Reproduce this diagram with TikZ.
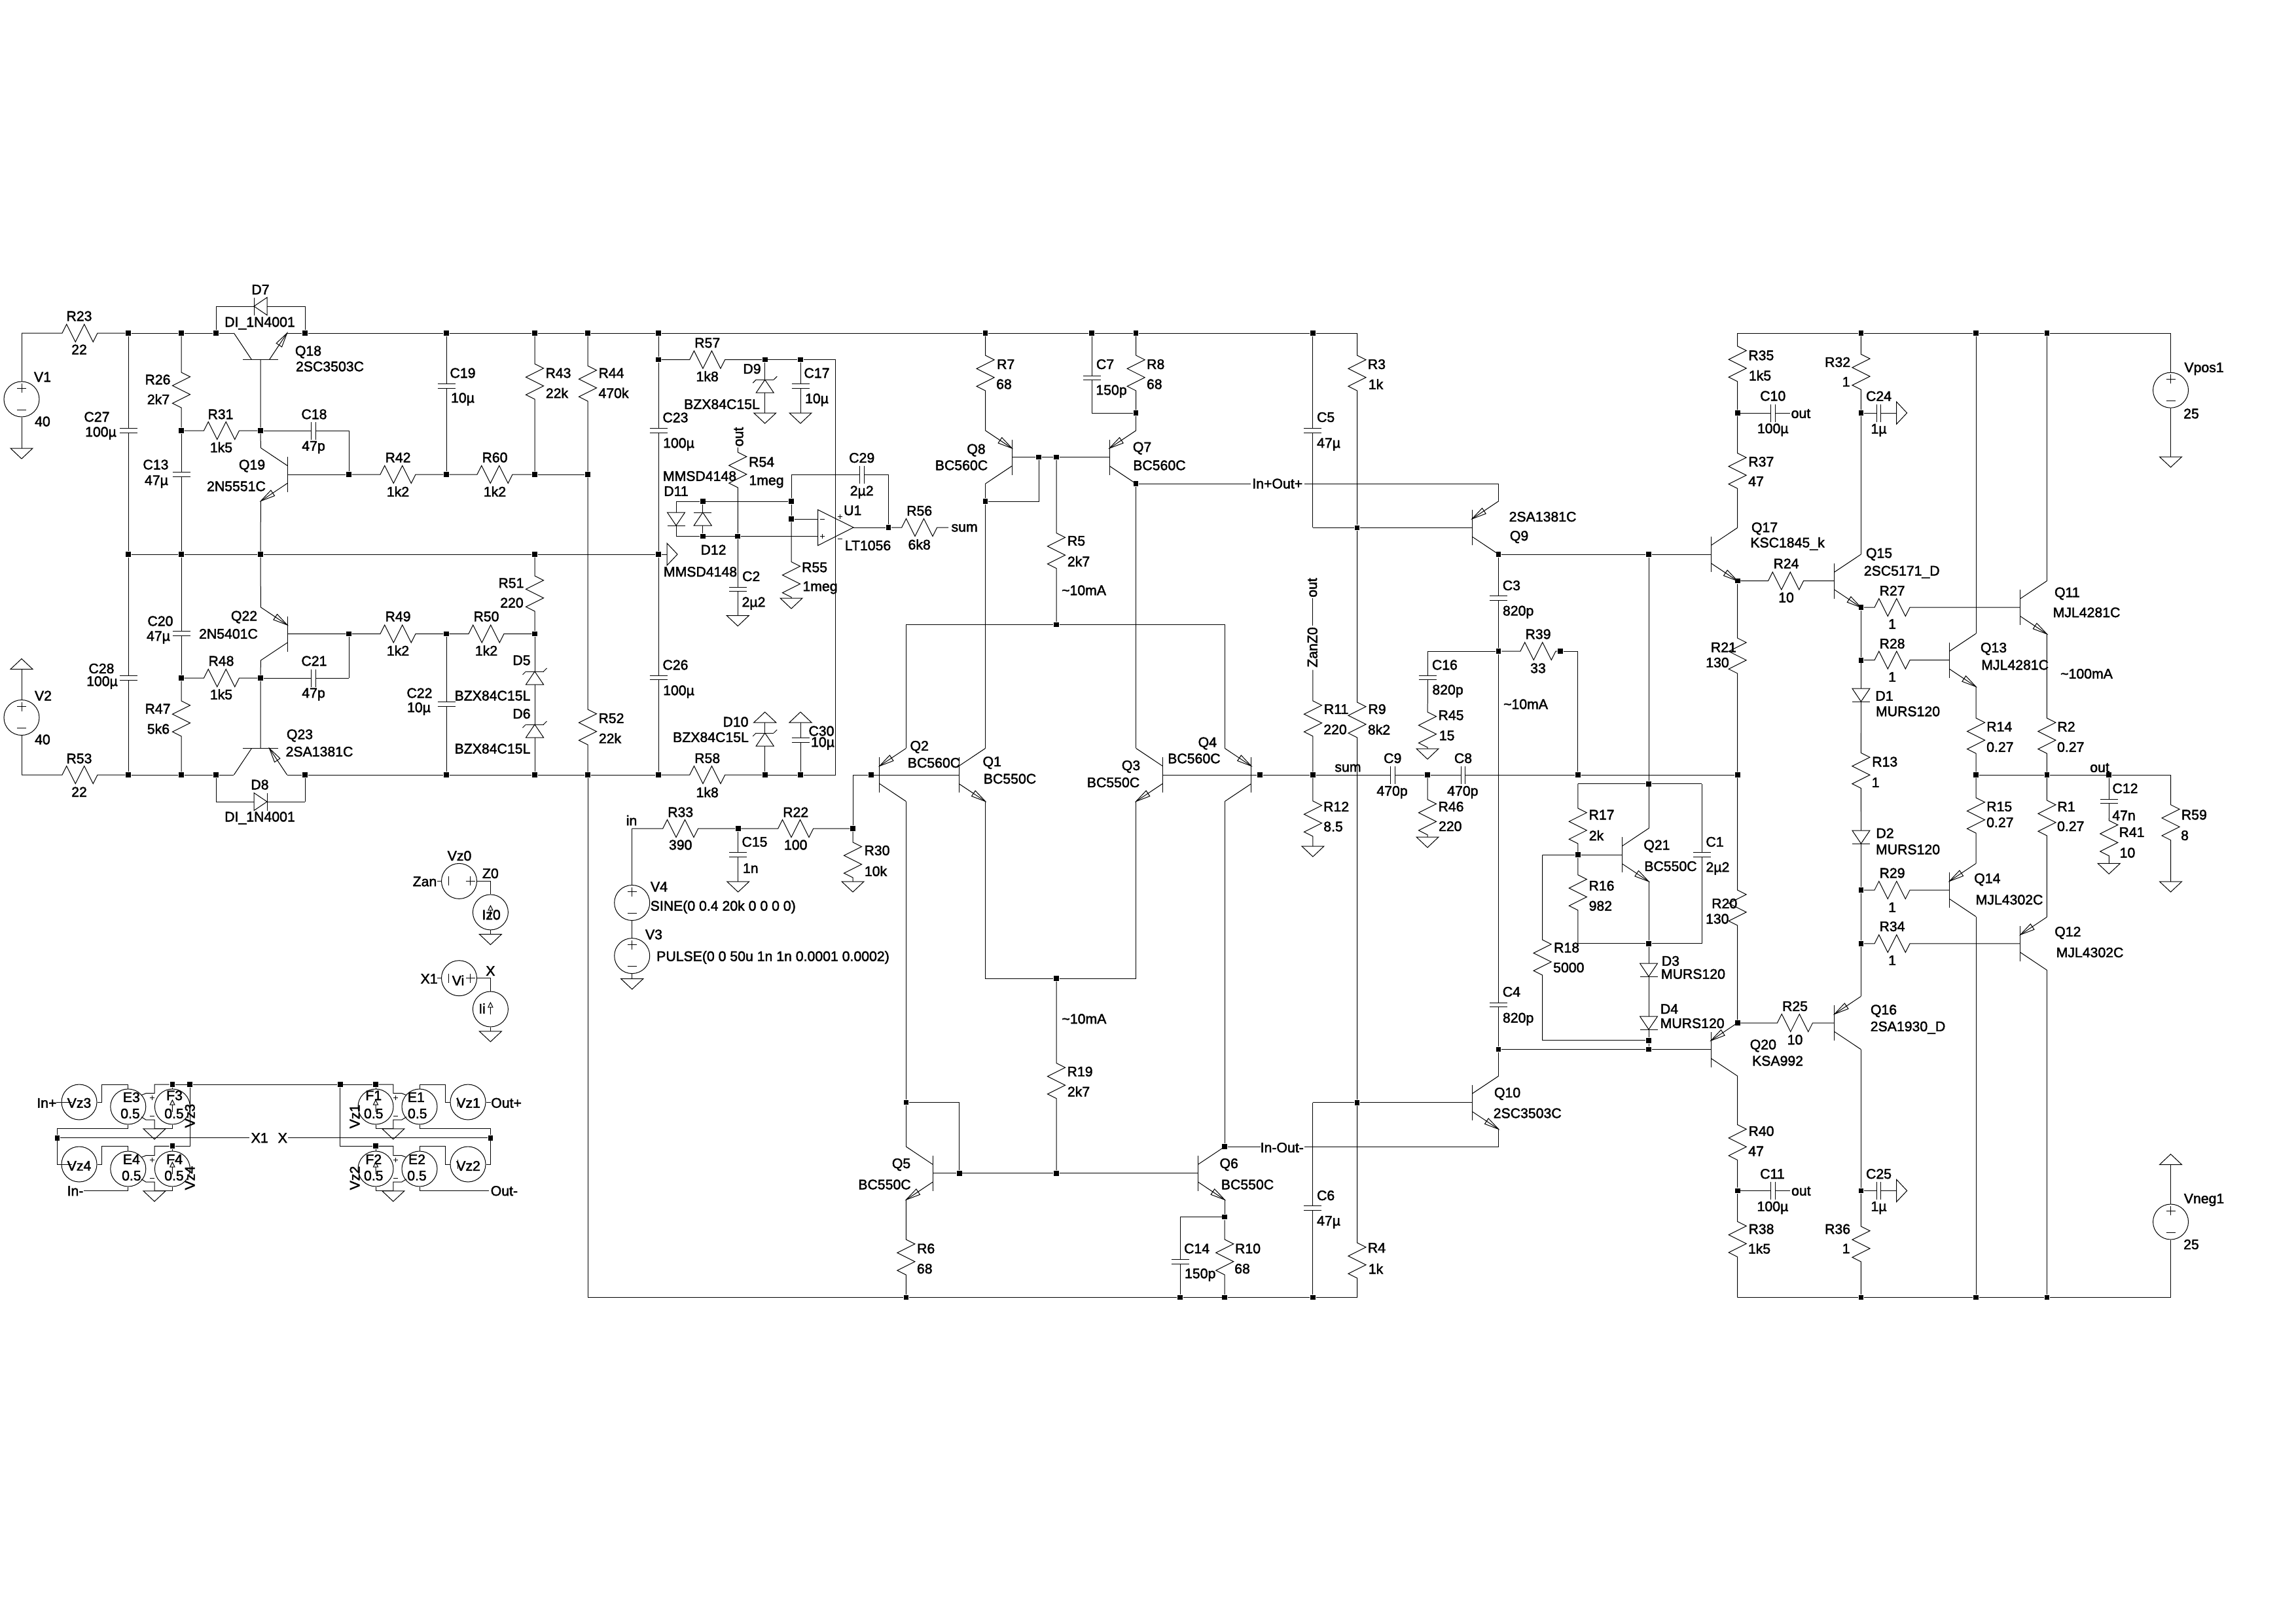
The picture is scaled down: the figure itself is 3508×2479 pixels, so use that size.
\documentclass[tikz,border=0pt]{standalone}
\usepackage{fontspec}
\setmainfont[FakeBold=2]{Liberation Sans}
\usetikzlibrary{calc}
\newcounter{tx}
\tikzset{
 wire/.style={line width=0.24pt,black,line join=miter},
 lab/.style={inner sep=0pt,font=\fontsize{5.1}{6}\selectfont,text=black},
 jct/.style={rectangle,fill=black,inner sep=0pt,minimum size=1.85pt},
 srcn/.style={circle,draw,line width=0.24pt,inner sep=0pt,minimum size=12.96pt}
}
\newcommand{\Jn}[3]{\node[jct] (#1) at (#2,#3) {};}
\newcommand{\JnAt}[2]{\node[jct] (#1) at (#2) {};}
\newcommand{\Pt}[3]{\coordinate (#1) at (#2,#3);}
\newcommand{\Tx}[3]{\stepcounter{tx}\node[lab] (t\arabic{tx}) at (#2,#3) {#1};}
\newcommand{\Ty}[3]{\stepcounter{tx}\node[lab,rotate=90] (t\arabic{tx}) at (#2,#3) {#1};}
\newcommand{\ResV}[4]{\coordinate (#1) at (#2 |- 0,#4);
 \draw[wire] (#2) -- ($(#1)+(0,-27)$) -- ++(13.5,6.75) -- ++(-27,13.5) -- ++(27,13.5) -- ++(-27,13.5) -- ++(13.5,6.75) -- (#3);}
\newcommand{\ResH}[4]{\coordinate (#1) at (#2 -| #4,0);
 \draw[wire] (#2) -- ($(#1)+(-27,0)$) -- ++(6.75,-13.5) -- ++(13.5,27) -- ++(13.5,-27) -- ++(13.5,27) -- ++(6.75,-13.5) -- (#3);}
\newcommand{\CapV}[4]{\coordinate (#1) at (#2 |- 0,#4);
 \draw[wire] (#2) -- ($(#1)+(0,-3.4)$) ($(#1)+(0,3.4)$) -- (#3)
  ($(#1)+(-13.5,-3.4)$) -- ++(27,0) ($(#1)+(-13.5,3.4)$) -- ++(27,0);}
\newcommand{\CapH}[4]{\coordinate (#1) at (#2 -| #4,0);
 \draw[wire] (#2) -- ($(#1)+(-3.4,0)$) ($(#1)+(3.4,0)$) -- (#3)
  ($(#1)+(-3.4,-13.5)$) -- ++(0,27) ($(#1)+(3.4,-13.5)$) -- ++(0,27);}
\newcommand{\DioV}[5]{\coordinate (#1) at (#2 |- 0,#4);
 \draw[wire] (#2) -- ($(#1)+(0,-10)$) ($(#1)+(0,10)$) -- (#3);
 \draw[wire] ($(#1)+(-13.5,-10*#5)$) -- ++(27,0) -- ($(#1)+(0,10*#5)$) -- cycle;
 \draw[wire] ($(#1)+(-13.5,10*#5)$) -- ++(27,0);}
\newcommand{\ZenV}[5]{\DioV{#1}{#2}{#3}{#4}{#5}
 \draw[wire] ($(#1)+(13.5,10*#5)$) -- ++(5,5*#5) ($(#1)+(-13.5,10*#5)$) -- ++(-5,-5*#5);}
\newcommand{\DioH}[5]{\coordinate (#1) at (#2 -| #4,0);
 \draw[wire] (#2) -- ($(#1)+(-10,0)$) ($(#1)+(10,0)$) -- (#3);
 \draw[wire] ($(#1)+(-10*#5,-13.5)$) -- ++(0,27) -- ($(#1)+(10*#5,0)$) -- cycle;
 \draw[wire] ($(#1)+(10*#5,-13.5)$) -- ++(0,27);}
\newcommand{\GndD}[3]{\coordinate (#1) at (#2 |- 0,#3); \draw[wire] (#2) -- (#1);
 \draw[wire] ($(#1)+(-17,0)$) -- ++(34,0) -- ++(-17,16) -- cycle;}
\newcommand{\GndU}[3]{\coordinate (#1) at (#2 |- 0,#3); \draw[wire] (#2) -- (#1);
 \draw[wire] ($(#1)+(-17,0)$) -- ++(34,0) -- ++(-17,-16) -- cycle;}
\newcommand{\GndR}[3]{\coordinate (#1) at (#2 -| #3,0); \draw[wire] (#2) -- (#1);
 \draw[wire] ($(#1)+(0,-17)$) -- ++(0,34) -- ++(16,-17) -- cycle;}
\newcommand{\Lx}[2]{\qx+#1*\qux+#2*\qvx}
\newcommand{\Ly}[2]{\qy+#1*\quy+#2*\qvy}
\newcommand{\TrBody}[7]{\def\qx{#2}\def\qy{#3}\def\qux{#4}\def\quy{#5}\def\qvx{#6}\def\qvy{#7}
 \coordinate (#1B) at (#2,#3);
 \coordinate (#1C) at (\Lx{40.6}{-40.6},\Ly{40.6}{-40.6});
 \coordinate (#1E) at (\Lx{40.6}{40.6},\Ly{40.6}{40.6});
 \draw[wire] (\Lx{0}{-27},\Ly{0}{-27}) -- (\Lx{0}{27},\Ly{0}{27});
 \draw[wire] (\Lx{0}{-13.5},\Ly{0}{-13.5}) -- (#1C);
 \draw[wire] (\Lx{0}{13.5},\Ly{0}{13.5}) -- (#1E);}
\newcommand{\TrN}[7]{\TrBody{#1}{#2}{#3}{#4}{#5}{#6}{#7}
 \draw[wire] (#1E) -- (\Lx{19.5}{32.6},\Ly{19.5}{32.6}) -- (\Lx{25.1}{24.2},\Ly{25.1}{24.2}) -- cycle;}
\newcommand{\TrP}[7]{\TrBody{#1}{#2}{#3}{#4}{#5}{#6}{#7}
 \draw[wire] (\Lx{0}{13.5},\Ly{0}{13.5}) -- (\Lx{15.5}{29.9},\Ly{15.5}{29.9}) -- (\Lx{21.1}{21.5},\Ly{21.1}{21.5}) -- cycle;}
\newcommand{\Src}[3]{\node[srcn] (#1) at (#2,#3) {};}
\newcommand{\PlusAt}[3]{\draw[wire] (#1-#3,#2) -- (#1+#3,#2) (#1,#2-#3) -- (#1,#2+#3);}
\newcommand{\HBar}[3]{\draw[wire] (#1-#3,#2) -- (#1+#3,#2);}
\newcommand{\VBar}[3]{\draw[wire] (#1,#2-#3) -- (#1,#2+#3);}
\newcommand{\VolV}[3]{\Src{#1}{#2}{#3}\PlusAt{#2}{#3-17}{7}\HBar{#2}{#3+16}{7}}
\newcommand{\VolH}[3]{\Src{#1}{#2}{#3}\PlusAt{#2+17}{#3}{7}\VBar{#2-16}{#3}{7}}
\newcommand{\CurU}[3]{\Src{#1}{#2}{#3}
 \draw[wire] (#2,#3+8) -- (#2,#3-3) (#2,#3-10) -- (#2-3.5,#3-3) -- (#2+3.5,#3-3) -- cycle;}
\newcommand{\Cell}[5]{%E, F, side, top dot, gnd y
 \coordinate (#1g) at ($(#1)+(#3*40.2,33.8)$);
 \draw[wire] ($(#1)+(#3*20,-17.5)$) -- ($(#1)+(#3*27,-20.3)$) -- ($(#1)+(#3*40.2,-20.3)$) |- (#4);
 \draw[wire] ($(#1)+(#3*20,15.7)$) -- ($(#1)+(#3*27,20)$) -- ($(#1)+(#3*40.2,20)$) -- (#1g);
 \draw[wire] (#2.south) |- (#1g);
 \draw[wire] (#2.north) -- (#4);
 \GndD{#1gg}{#1g}{#5}
 \draw[wire] ($(#1)+(#3*36.2,-13.6)+(-3.5,0)$) -- ++(7,0) ($(#1)+(#3*36.2,-13.6)+(0,-3.5)$) -- ++(0,7);
 \draw[wire] ($(#1)+(#3*36.2,14)+(-3.5,0)$) -- ++(7,0);}
\begin{document}
\begin{tikzpicture}[x=0.24pt,y=-0.24pt]
\useasboundingbox (0,0) rectangle (3508,2479);
\fill[white] (0,0) rectangle (3508,2479);
% ---- transistors
\TrN{Q18}{398}{549.6}{0}{-1}{1}{0}
\TrN{Q19}{439}{725}{-1}{0}{0}{1}
\TrP{Q22}{439}{968.5}{-1}{0}{0}{-1}
\TrP{Q23}{398}{1143.4}{0}{1}{1}{0}
\TrP{Q8}{1546.2}{698.5}{-1}{0}{0}{-1}
\TrP{Q7}{1695}{698.5}{1}{0}{0}{-1}
\TrN{Q1}{1465}{1184}{1}{0}{0}{1}
\TrP{Q2}{1343.8}{1184}{1}{0}{0}{-1}
\TrN{Q3}{1776.2}{1184}{-1}{0}{0}{1}
\TrP{Q4}{1911.8}{1184}{-1}{0}{0}{-1}
\TrN{Q5}{1425}{1792.7}{-1}{0}{0}{1}
\TrN{Q6}{1830.6}{1792.7}{1}{0}{0}{1}
\TrP{Q9}{2249}{806.4}{1}{0}{0}{-1}
\TrN{Q10}{2249}{1684.8}{1}{0}{0}{1}
\TrN{Q17}{2614}{847}{1}{0}{0}{1}
\TrP{Q20}{2614}{1603.6}{1}{0}{0}{-1}
\TrN{Q21}{2478.4}{1306.3}{1}{0}{0}{1}
\TrN{Q15}{2802.8}{887.6}{1}{0}{0}{1}
\TrP{Q16}{2802.8}{1563}{1}{0}{0}{-1}
\TrN{Q13}{2978.4}{1008.7}{1}{0}{0}{1}
\TrP{Q14}{2978.4}{1360}{1}{0}{0}{-1}
\TrN{Q11}{3086.8}{928.2}{1}{0}{0}{1}
\TrP{Q12}{3086.8}{1441.8}{1}{0}{0}{-1}
% ---- junctions: top rail
\Jn{T1}{196}{509}\Jn{T2}{277}{509}\Jn{T3}{330}{509}\Jn{T4}{466}{509}\Jn{T5}{682}{509}\Jn{T6}{817}{509}\Jn{T7}{898}{509}\Jn{T8}{1006}{509}
\Jn{T9}{1505.6}{509}\Jn{T10}{1668}{509}\Jn{T11}{1735.6}{509}\Jn{T12}{2005.9}{509}\Pt{T13}{2073.5}{509}
\Pt{Ta}{2654.6}{509}\Jn{Tb}{2843.4}{509}\Jn{Tc}{3019}{509}\Jn{Td}{3127.4}{509}\Pt{Te}{3316.5}{509}
% mid rail
\Jn{M1}{196}{847}\Jn{M2}{277}{847}\Jn{M3}{398}{847}\Jn{M4}{817}{847}\Jn{M5}{1006}{847}
% bottom supply rail
\Jn{B1}{196}{1184}\Jn{B2}{277}{1184}\Jn{B3}{330}{1184}\Jn{B4}{466}{1184}\Jn{B5}{682}{1184}\Jn{B6}{817}{1184}\Jn{B7}{898}{1184}\Jn{B8}{1006}{1184}\Jn{B9}{1168.7}{1184}\Jn{B10}{1223}{1184}\Pt{B11}{1276.5}{1184}
% left block
\Jn{J31}{277}{658}\Jn{J32}{398}{658}\Jn{J33}{533}{725}\Jn{J34}{682}{725}\Jn{J35}{817}{725}\Jn{J36}{898}{725}
\Jn{J41}{533}{968.5}\Jn{J42}{682}{968.5}\Jn{J43}{817}{968.5}\Jn{J44}{277}{1036}\Jn{J45}{398}{1036}
% servo block
\Jn{I1}{1006}{549.6}\Jn{I2}{1168.7}{549.6}\Jn{I3}{1223}{549.6}\Pt{I4}{1276.5}{549.6}
\Jn{I5}{1209}{766}\Jn{I6}{1209}{793}\Jn{I7}{1073.7}{766}\Jn{I8}{1073.7}{819.6}\Jn{I9}{1127.3}{819.6}\Pt{I10}{1033}{766}\Pt{I11}{1033}{819.6}
\Pt{Ua}{1249.7}{793}\Pt{Ub}{1249.7}{819.6}\Pt{Uo}{1304}{806}\Jn{U1o}{1357.5}{806}
% centre
\Jn{K1}{1587}{698.5}\Jn{K2}{1614}{698.5}\Jn{K3}{1505.6}{766}\Jn{K4}{1614}{954.6}\Jn{K5}{1735.6}{631}\JnAt{Q7Cd}{Q7C}
\Jn{K6}{1330.7}{1184}\Jn{K7}{1924.9}{1184}\Jn{S1}{2005.9}{1184}\Jn{S2}{2181}{1184}\Jn{S3}{2410.8}{1184}\Jn{S4}{2654.6}{1184}
\Jn{N1}{1127.7}{1266}\Jn{N2}{1303}{1266}\Pt{inp}{965.7}{1266}
\Jn{K8}{1614}{1495}\Jn{K9}{1384.4}{1684.4}\Jn{K10}{1465.7}{1792.7}\Jn{K11}{1614}{1792.7}\JnAt{Q6Cd}{Q6C}\Jn{K13}{1871.2}{1859.6}
\Pt{P0}{898}{1982.5}\Jn{P1}{1384.4}{1982.5}\Jn{P2}{1803}{1982.5}\Jn{P3}{1871.2}{1982.5}\Jn{P4}{2005.9}{1982.5}\Pt{P5}{2073.5}{1982.5}
% VAS block
\Jn{Z1}{2073.5}{806.4}\Jn{Z2}{2073.5}{1684.8}\JnAt{Q9Cd}{Q9C}\Jn{W1}{2519}{847}\Jn{W2}{2289.6}{995}\Jn{W3}{2384}{995}\Jn{W4}{2519}{1197.7}\Jn{W5}{2410.8}{1306.3}\Jn{W6}{2519}{1441.8}\Jn{W7}{2519}{1589.8}\Jn{W8}{2519}{1603.6}\Jn{W9}{2289.6}{1603.6}
\JnAt{Q17Ed}{Q17E}\JnAt{Q20Ed}{Q20E}\JnAt{Q15Ed}{Q15E}
% output block
\Jn{A1}{2654.6}{631}\Jn{A2}{2843.4}{631}\Jn{A3}{2843.4}{1008.7}\Jn{A4}{2843.4}{1360}\Jn{A5}{2843.4}{1441.8}\Jn{A6}{2654.6}{1819.4}\Jn{A7}{2843.4}{1819.4}
\Jn{A8}{2843.4}{1982.5}\Jn{A9}{3019}{1982.5}\Jn{A10}{3127.4}{1982.5}\Pt{A11}{2654.6}{1982.5}\Pt{A12}{3316.5}{1982.5}
\Jn{A13}{3019}{1184}\Jn{A14}{3127.4}{1184}\Jn{A15}{3222.2}{1184}\Pt{A16}{3316.5}{1184}
% sources
\VolV{V1}{33}{610}\VolV{V2}{33}{1096.5}\VolV{Vpos1}{3316.5}{596.2}\VolV{Vneg1}{3316.5}{1867}\VolV{V4}{965.7}{1379.5}\VolV{V3}{965.7}{1460.6}
\VolH{Vz0}{701.5}{1346.4}\CurU{Iz0}{749.4}{1393.9}\VolH{Vi}{701.5}{1494.7}\CurU{Ii}{749.4}{1542}
% ---- left block wiring
\Pt{VT}{33}{509}\Pt{VB}{33}{1184}
\draw[wire] (V1.north) -- (VT);
\ResH{R23}{VT}{T1}{122}
\GndD{g1}{V1.south}{685}
\draw[wire] (T1) -- (T2) -- (T3) -- (Q18C) (Q18E) -- (T4) -- (T5) -- (T6) -- (T7) -- (T8) -- (T9) -- (T10) -- (T11) -- (T12) -- (T13);
\Pt{d7l}{330}{468}\Pt{d7r}{466}{468}
\draw[wire] (T3) -- (d7l) (d7r) -- (T4);
\DioH{D7}{d7l}{d7r}{398}{-1}
\CapV{C27}{T1}{M1}{658}\CapV{C28}{M1}{B1}{1036}
\ResV{R26}{T2}{J31}{596}\CapV{C13}{J31}{M2}{725}\CapV{C20}{M2}{J44}{968}\ResV{R47}{J44}{B2}{1098}
\ResH{R31}{J31}{J32}{338.5}
\draw[wire] (Q18B) -- (J32) -- (Q19C) (Q19E) -- (M3);
\Pt{c18r}{533}{658}\CapH{C18}{J32}{c18r}{479}
\draw[wire] (c18r) -- (J33) -- (Q19B);
\ResH{R42}{J33}{J34}{608}\ResH{R60}{J34}{J35}{756}
\draw[wire] (J35) -- (J36);
\CapV{C19}{T5}{J34}{590}\ResV{R43}{T6}{J35}{583}\ResV{R44}{T7}{J36}{586}\ResV{R52}{J36}{B7}{1111}
\draw[wire] (B7) -- (P0);
\draw[wire] (M1) -- (M2) -- (M3) -- (M4) -- (M5);
\GndR{g5}{M5}{1019}
\draw[wire] (M3) -- (Q22E) (Q22C) -- (J45) -- (Q23B) (Q22B) -- (J41);
\ResH{R49}{J41}{J42}{608}\ResH{R50}{J42}{J43}{743}\ResV{R51}{M4}{J43}{907}
\Pt{d56}{817}{1078}
\ZenV{D5}{J43}{d56}{1036}{-1}\ZenV{D6}{d56}{B6}{1117}{-1}
\CapV{C22}{J42}{B5}{1076}
\Pt{c21r}{533}{1036}\CapH{C21}{J45}{c21r}{479}
\draw[wire] (c21r) -- (J41);
\ResH{R48}{J44}{J45}{338.5}
\draw[wire] (V2.south) -- (VB);
\ResH{R53}{VB}{B1}{122}
\GndU{g2}{V2.north}{1022.6}
\draw[wire] (B1) -- (B2) -- (B3) -- (Q23C) (Q23E) -- (B4) -- (B5) -- (B6) -- (B7) -- (B8);
\Pt{d8l}{330}{1225}\Pt{d8r}{466}{1225}
\draw[wire] (B3) -- (d8l) (d8r) -- (B4);
\DioH{D8}{d8l}{d8r}{398}{1}
% ---- servo
\draw[wire] (T8) -- (I1);
\CapV{C23}{I1}{M5}{658}\CapV{C26}{M5}{B8}{1035.5}
\ResH{R57}{I1}{I2}{1080.7}
\draw[wire] (I2) -- (I3) -- (I4) -- (B11);
\Pt{G9}{1168.7}{631}\ZenV{D9}{I2}{G9}{590.2}{-1}\GndD{g9}{G9}{631}
\Pt{G17}{1223}{631}\CapV{C17}{I3}{G17}{590}\GndD{g17}{G17}{631}
\ResH{R58}{B8}{B9}{1080.7}
\draw[wire] (B9) -- (B10) -- (B11);
\Pt{G10}{1168.7}{1104}\GndU{g10}{G10}{1104}\ZenV{D10}{G10}{B9}{1130}{-1}
\Pt{G30}{1223}{1104}\GndU{g30}{G30}{1104}\CapV{C30}{G30}{B10}{1131}
\Pt{out54}{1127.3}{683.5}\ResV{R54}{out54}{I9}{718}
\Pt{G2}{1127.3}{940.6}\CapV{C2}{I9}{G2}{900.5}\GndD{g2x}{G2}{940.6}
\Pt{G55}{1209}{914}\ResV{R55}{I6}{G55}{885.5}\GndD{g55}{G55}{914}
\draw[wire] (I5) -- (I6) -- (Ua) (I10) -- (I7) -- (I5) (I11) -- (I8) -- (I9) -- (Ub);
\Pt{c29l}{1209}{725}\Pt{c29r}{1357.5}{725}
\draw[wire] (c29l) -- (I5) (c29r) -- (U1o) -- (Uo);
\CapH{C29}{c29l}{c29r}{1316.7}
\Pt{s56}{1449}{806}\ResH{R56}{U1o}{s56}{1404.7}
\DioV{D11}{I10}{I11}{793}{1}\DioV{D12}{I7}{I8}{793}{-1}
\draw[wire] (1249.7,779) -- (Uo) -- (1249.7,833.5) -- cycle;
\HBar{1256}{793}{3.5}\PlusAt{1256}{819.6}{3.5}\PlusAt{1283}{789.6}{3.5}\HBar{1283}{823}{3.5}
% ---- input stage
\ResV{R7}{T9}{Q8E}{570}\ResV{R8}{T11}{K5}{570}
\draw[wire] (K5) -- (Q7E);
\Pt{c7b}{1668}{631}\CapV{C7}{T10}{c7b}{577.5}
\draw[wire] (c7b) -- (K5);
\draw[wire] (Q8B) -- (K1) -- (K2) -- (Q7B) (Q8C) -- (K3) -- (Q1C) (K3) -| (K1) (Q7Cd) -- (Q3C);
\Pt{ip1}{1911}{739.1}\Pt{ip2}{1992.5}{739.1}\Pt{ip3}{2289.6}{739.1}
\draw[wire] (Q7Cd) -- (ip1) (ip2) -- (ip3) -- (Q9E);
\ResV{R5}{K2}{K4}{841.5}
\Pt{h1}{1384.4}{954.6}\Pt{h2}{1871.2}{954.6}
\draw[wire] (Q2E) -- (h1) -- (K4) -- (h2) -- (Q4E);
\draw[wire] (Q2C) -- (K9) -- (Q5C) (K9) -| (K10) (Q1B) -- (Q2B);
\Pt{n3}{1303}{1184}
\draw[wire] (N2) -- (n3) -- (K6) -- (Q2B);
\draw[wire] (Q3B) -- (Q4B) -- (K7) -- (S1);
\CapH{C9}{S1}{S2}{2127.7}\CapH{C8}{S2}{S3}{2235.5}
\draw[wire] (S3) -- (S4);
\Pt{q1b}{1505.6}{1495}\Pt{q3b}{1735.6}{1495}
\draw[wire] (Q1E) -- (q1b) -- (K8) -- (q3b) -- (Q3E);
\ResV{R19}{K8}{K11}{1651.5}
\draw[wire] (Q5B) -- (K10) -- (K11) -- (Q6B);
\ResV{R6}{Q5E}{P1}{1921}
\draw[wire] (Q6E) -- (K13);
\ResV{R10}{K13}{P3}{1921}
\Pt{c14t}{1803}{1859.6}
\draw[wire] (K13) -- (c14t);
\CapV{C14}{c14t}{P2}{1927.6}
\draw[wire] (Q4C) -- (Q6Cd);
\Pt{io1}{1925.5}{1752.1}\Pt{io2}{1992.5}{1752.1}\Pt{io3}{2289.6}{1752.1}
\draw[wire] (Q6Cd) -- (io1) (io2) -- (io3) -- (Q10E);
\draw[wire] (P0) -- (P1) -- (P2) -- (P3) -- (P4) -- (P5);
\ResV{R3}{T13}{Z1}{570}\ResV{R9}{Z1}{Z2}{1100}\ResV{R4}{Z2}{P5}{1926}
\Pt{c5b}{2005.9}{806.4}\CapV{C5}{T12}{c5b}{658}
\draw[wire] (c5b) -- (Z1) -- (Q9B);
\Pt{c6t}{2005.9}{1684.8}\CapV{C6}{c6t}{P4}{1846}
\draw[wire] (c6t) -- (Z2) -- (Q10B);
\Pt{zo1}{2005.9}{914}\Pt{zo2}{2005.9}{956}\Pt{zo3}{2005.9}{1023.6}\Pt{G12}{2005.9}{1293}
\draw[wire] (zo1) -- (zo2);
\ResV{R11}{zo3}{S1}{1098}\ResV{R12}{S1}{G12}{1251}\GndD{g12}{G12}{1293}
% ---- VAS
\draw[wire] (Q9Cd) -- (W1) -- (Q17B);
\CapV{C3}{Q9Cd}{W2}{914}\CapV{C4}{W2}{W9}{1535.4}
\draw[wire] (W9) -- (Q10C);
\Pt{c16t}{2181}{995}
\draw[wire] (c16t) -- (W2);
\ResH{R39}{W2}{W3}{2350}
\Pt{w3r}{2410.8}{995}
\draw[wire] (W3) -- (w3r) -- (S3);
\Pt{r45t}{2181}{1075}\Pt{G45}{2181}{1144}
\CapV{C16}{c16t}{r45t}{1035.5}\ResV{R45}{r45t}{G45}{1115}\GndD{g45}{G45}{1144}
\Pt{G46}{2181}{1279}\ResV{R46}{S2}{G46}{1248.6}\GndD{g46}{G46}{1279}
\draw[wire] (W1) -- (W4) -- (Q21C);
\Pt{w4l}{2410.8}{1197.7}\Pt{w4r}{2600}{1197.7}
\draw[wire] (w4l) -- (W4) -- (w4r);
\ResV{R17}{w4l}{W5}{1262}
\draw[wire] (W5) -- (Q21B);
\Pt{r18t}{2356.6}{1306.3}\Pt{r18b}{2356.6}{1589.8}
\draw[wire] (r18t) -- (W5) (r18b) -- (W7);
\ResV{R18}{r18t}{r18b}{1463}
\Pt{r16b}{2410.8}{1441.8}\Pt{c1b}{2600}{1441.8}
\ResV{R16}{W5}{r16b}{1363.8}
\draw[wire] (r16b) -- (W6) -- (c1b) (Q21E) -- (W6);
\CapV{C1}{w4r}{c1b}{1306}
\Pt{d34}{2519}{1530}
\DioV{D3}{W6}{d34}{1482}{1}\DioV{D4}{d34}{W7}{1563}{1}
\draw[wire] (W7) -- (W8) (W9) -- (W8) -- (Q20B);
\ResV{R35}{Ta}{A1}{556}\ResV{R37}{A1}{Q17C}{719.4}
\ResV{R21}{Q17Ed}{S4}{1002}\ResV{R20}{S4}{Q20Ed}{1387}
\ResH{R24}{Q17Ed}{Q15B}{2728.5}\ResH{R25}{Q20Ed}{Q16B}{2742.5}
\Pt{o10}{2735}{631}\CapH{C10}{A1}{o10}{2708.7}
\Pt{o11}{2735}{1819.4}\CapH{C11}{A6}{o11}{2708.7}
\ResV{R40}{Q20C}{A6}{1745.6}\ResV{R38}{A6}{A11}{1893.6}
\draw[wire] (A11) -- (A8) -- (A9) -- (A10) -- (A12) -- (Vneg1.south);
\GndU{g7}{Vneg1.north}{1779.6}
% ---- output stage
\draw[wire] (Ta) -- (Tb) -- (Tc) -- (Td) -- (Te) -- (Vpos1.north);
\GndD{g8}{Vpos1.south}{698}
\ResV{R32}{Tb}{A2}{568.4}
\draw[wire] (A2) -- (Q15C);
\Pt{g24}{2897.6}{631}\CapH{C24}{A2}{g24}{2870.5}\GndR{g24x}{g24}{2897.6}
\draw[wire] (Q15Ed) -- (A3);
\Pt{r13t}{2843.4}{1120}\Pt{d2t}{2843.4}{1240}
\DioV{D1}{A3}{r13t}{1062}{1}\ResV{R13}{r13t}{d2t}{1177.4}\DioV{D2}{d2t}{A4}{1279}{1}
\draw[wire] (A4) -- (A5) -- (Q16E);
\ResH{R27}{Q15Ed}{Q11B}{2891}\ResH{R28}{A3}{Q13B}{2891}\ResH{R29}{A4}{Q14B}{2891}\ResH{R34}{A5}{Q12B}{2891}
\draw[wire] (Q16C) -- (A7);
\ResV{R36}{A7}{A8}{1901}
\Pt{g25}{2897.6}{1819.4}\CapH{C25}{A7}{g25}{2870.5}\GndR{g25x}{g25}{2897.6}
\draw[wire] (Tc) -- (Q13C) (Td) -- (Q11C);
\ResV{R14}{Q13E}{A13}{1124.3}\ResV{R15}{A13}{Q14E}{1246}\ResV{R2}{Q11E}{A14}{1124.3}\ResV{R1}{A14}{Q12E}{1250}
\draw[wire] (Q14C) -- (A9) (Q12C) -- (A10);
\draw[wire] (A13) -- (A14) -- (A15) -- (A16);
\Pt{G59}{3316.5}{1347}\ResV{R59}{A16}{G59}{1256.7}\GndD{g59}{G59}{1347}
\Pt{r41t}{3222.2}{1250}\Pt{G41}{3222.2}{1319.4}
\CapV{C12}{A15}{r41t}{1224.5}\ResV{R41}{r41t}{G41}{1280.7}\GndD{g41}{G41}{1319.4}
% ---- input network
\draw[wire] (V4.north) -- (inp) (V4.south) -- (V3.north);
\ResH{R33}{inp}{N1}{1039.7}\ResH{R22}{N1}{N2}{1215.7}
\Pt{G15}{1127.7}{1347}\CapV{C15}{N1}{G15}{1306}\GndD{g15}{G15}{1347}
\Pt{G30b}{1303}{1347}\ResV{R30}{N2}{G30b}{1314}\GndD{g30b}{G30b}{1347}
\GndD{g3}{V3.south}{1495.6}
% ---- probes
\Pt{zan}{668}{1346.4}\Pt{zz}{749.4}{1346.4}
\draw[wire] (zan) -- (Vz0.west) (Vz0.east) -- (zz) -- (Iz0.north);
\GndD{gz}{Iz0.south}{1427.5}
\Pt{xa}{668}{1494.7}\Pt{xb}{749.4}{1494.7}
\draw[wire] (xa) -- (Vi.west) (Vi.east) -- (xb) -- (Ii.north);
\GndD{gi}{Ii.south}{1575.8}
% ---- behavioural block
\Src{Vz3}{121}{1684}\HBar{102}{1684}{8}\Src{Vz4}{121}{1779}\HBar{102}{1779}{8}
\Src{Vz1}{715}{1684}\VBar{699}{1684}{7}\Src{Vz2}{715}{1779}\VBar{699}{1779}{7}
\Src{E3}{195.8}{1691}\Src{E4}{195.8}{1786}\Src{E1}{641}{1691}\Src{E2}{641}{1786}
\CurU{F3}{263.4}{1691}\CurU{F4}{263.4}{1786}\CurU{F1}{574}{1691}\CurU{F2}{574}{1786}
\Jn{d1}{263.4}{1657.2}\Jn{d2}{290.2}{1657.2}\Jn{d3}{519.8}{1657.2}\Jn{d4}{574}{1657.2}\Jn{d5}{263.4}{1751.3}\Jn{d6}{574}{1751.3}\Jn{d7}{87.4}{1738.7}\Jn{d8}{749.4}{1738.7}
\Cell{E3}{F3}{1}{d1}{1724.8}\Cell{E4}{F4}{1}{d5}{1819.8}\Cell{E1}{F1}{-1}{d4}{1724.8}\Cell{E2}{F2}{-1}{d6}{1819.8}
\draw[wire] (d1) -- (d2) -- (d3) -- (d4) (d5) -| (d2) (d6) -| (d3);
\draw[wire] (Vz3.east) -- ++(7,0) |- (E3.north |- d1) -- (E3.north);
\draw[wire] (Vz1.west) -- ++(-7,0) |- (E1.north |- d4) -- (E1.north);
\draw[wire] (Vz4.east) -- ++(7,0) |- (E4.north |- d5) -- (E4.north);
\draw[wire] (Vz2.west) -- ++(-7,0) |- (E2.north |- d6) -- (E2.north);
\Pt{lc3}{87.4}{1724.4}\Pt{rc1}{749.4}{1724.4}\Pt{inm}{127.6}{1819.7}\Pt{outm}{747}{1819.7}
\draw[wire] (E3.south) |- (lc3) -- (d7) |- (Vz4.west);
\draw[wire] (E1.south) |- (rc1) -- (d8) |- (Vz2.east);
\draw[wire] (E4.south) |- (inm) (E2.south) |- (outm);
\Pt{x1e}{380.7}{1738.7}\Pt{xxe}{440}{1738.7}\Pt{inpp}{86}{1684}\Pt{outp}{750}{1684}
\draw[wire] (d7) -- (x1e) (xxe) -- (d8) (inpp) -- (Vz3.west) (Vz1.east) -- (outp);
% ---- labels: left
\Tx{D7}{398}{442.5}\Tx{DI\_1N4001}{397}{494}\Tx{Q18}{471}{538}\Tx{2SC3503C}{504}{560}
\Tx{R23}{121}{483}\Tx{22}{121}{534}\Tx{V1}{65}{576}\Tx{40}{65}{644}
\Tx{R26}{241}{580}\Tx{2k7}{242}{610}\Tx{C27}{148}{637}\Tx{100µ}{154}{662}
\Tx{R31}{337}{633}\Tx{1k5}{338}{683.5}\Tx{C18}{480}{633}\Tx{47p}{479}{683.5}
\Tx{C13}{238}{710}\Tx{47µ}{239}{736}\Tx{Q19}{385}{712}\Tx{2N5551C}{361}{743}
\Tx{C19}{707}{570}\Tx{10µ}{707}{610}\Tx{R43}{853}{570}\Tx{22k}{851}{600.5}\Tx{R44}{934}{570}\Tx{470k}{937.5}{600.5}
\Tx{R42}{608}{699}\Tx{1k2}{608}{751}\Tx{R60}{756}{699}\Tx{1k2}{756}{751}
\Tx{R51}{781}{891}\Tx{220}{782}{921}\Tx{C20}{245}{949}\Tx{47µ}{242}{974}\Tx{Q22}{373}{943}\Tx{2N5401C}{349}{968.5}
\Tx{R49}{608}{942}\Tx{1k2}{608}{994}\Tx{R50}{743}{942}\Tx{1k2}{743}{994}\Tx{D5}{797}{1009}
\Tx{R48}{338}{1010}\Tx{1k5}{338}{1061}\Tx{C21}{480}{1010}\Tx{47p}{479}{1061}\Tx{C28}{155}{1021.5}\Tx{100µ}{156}{1043}
\Tx{V2}{66}{1063}\Tx{40}{65}{1130}\Tx{C22}{641}{1059}\Tx{10µ}{640}{1083}
\Tx{BZX84C15L}{752.5}{1063}\Tx{D6}{797}{1090.6}\Tx{BZX84C15L}{752.5}{1144}
\Tx{R47}{241}{1083}\Tx{5k6}{242}{1113.6}\Tx{R52}{934}{1097.5}\Tx{22k}{932}{1128}
\Tx{Q23}{458}{1124}\Tx{2SA1381C}{488}{1148.5}\Tx{R53}{121}{1159}\Tx{22}{121}{1210}\Tx{D8}{397}{1199}\Tx{DI\_1N4001}{397}{1250}
% servo labels
\Tx{R57}{1080.7}{524}\Tx{1k8}{1080.7}{575}\Tx{D9}{1149}{563.6}\Tx{C17}{1248}{570}\Tx{10µ}{1248}{611}
\Tx{BZX84C15L}{1103}{617.7}\Tx{C23}{1032}{638}\Tx{100µ}{1037}{679}\Ty{out}{1128.6}{667.5}
\Tx{R54}{1163.6}{706}\Tx{1meg}{1171}{736}\Tx{MMSD4148}{1069}{727.5}\Tx{D11}{1033}{750.5}
\Tx{C29}{1316.7}{699.6}\Tx{2µ2}{1316.7}{752}\Tx{R55}{1244.6}{867}\Tx{1meg}{1253}{898}
\Tx{U1}{1302.7}{780}\Tx{LT1056}{1326}{833.5}\Tx{R56}{1404.7}{780.5}\Tx{6k8}{1404.7}{832}\Tx{sum}{1473.6}{806.7}
\Tx{D12}{1090}{840}\Tx{MMSD4148}{1070}{873.7}\Tx{C2}{1147.7}{880.6}\Tx{2µ2}{1151.5}{922}
\Tx{C26}{1032}{1016}\Tx{100µ}{1037}{1057}\Tx{D10}{1124}{1103}\Tx{BZX84C15L}{1086}{1126.5}
\Tx{C30}{1255}{1117}\Tx{10µ}{1257}{1136}\Tx{R58}{1080.7}{1158.6}\Tx{1k8}{1080.7}{1210.6}
% input stage labels
\Tx{R7}{1536.7}{556.6}\Tx{68}{1534}{587}\Tx{C7}{1688.5}{556.6}\Tx{150p}{1698}{598}\Tx{R8}{1765.7}{556.6}\Tx{68}{1763.8}{587}
\Tx{Q8}{1491.5}{688}\Tx{BC560C}{1469}{711}\Tx{Q7}{1745}{685}\Tx{BC560C}{1771.4}{711}\Tx{In+Out+}{1951.7}{739}
\Tx{R5}{1644.5}{826.5}\Tx{2k7}{1648}{857.6}\Tx{\textasciitilde 10mA}{1656}{902}
\Tx{Q2}{1404.7}{1141.5}\Tx{BC560C}{1427}{1165.6}\Tx{Q1}{1515.7}{1165.6}\Tx{BC550C}{1543}{1190}
\Tx{Q3}{1728}{1171.5}\Tx{BC550C}{1701}{1195.6}\Tx{Q4}{1844.8}{1136}\Tx{BC560C}{1824.4}{1159}
\Tx{in}{965}{1253.5}\Tx{R33}{1039.7}{1241}\Tx{390}{1039.7}{1291}\Tx{C15}{1153}{1286.4}\Tx{1n}{1146.8}{1326.7}
\Tx{R22}{1215.7}{1241}\Tx{100}{1215.7}{1291}\Tx{R30}{1340}{1299.5}\Tx{10k}{1338}{1331}
\Tx{V4}{1007}{1355}\Tx{SINE(0 0.4 20k 0 0 0 0)}{1104.7}{1386}\Tx{V3}{999}{1428}\Tx{PULSE(0 0 50u 1n 1n 0.0001 0.0002)}{1181}{1463}
\Tx{\textasciitilde 10mA}{1656.4}{1556.8}\Tx{R19}{1650}{1637.4}\Tx{2k7}{1648}{1667.7}
\Tx{Q5}{1377}{1779.6}\Tx{BC550C}{1351.5}{1810}\Tx{R6}{1414.7}{1907.8}\Tx{68}{1412.8}{1938.6}
\Tx{Q6}{1877.7}{1779.6}\Tx{BC550C}{1906}{1810}\Tx{C14}{1828.6}{1907.8}\Tx{150p}{1833.7}{1948}\Tx{R10}{1906.5}{1907.8}\Tx{68}{1898}{1938.6}
% VAS labels
\Tx{R3}{2103.4}{556.6}\Tx{1k}{2102}{587}\Tx{C5}{2025.6}{637.5}\Tx{47µ}{2030}{679}
\Tx{2SA1381C}{2357}{789.6}\Tx{Q9}{2321}{820.6}\Tx{C3}{2309.4}{894.6}\Tx{820p}{2319.6}{935.3}
\Tx{R39}{2350}{969}\Tx{33}{2350}{1021}\Tx{C16}{2207.4}{1016}\Tx{820p}{2212}{1056}\Tx{R45}{2217}{1093}\Tx{15}{2210.6}{1124}
\Tx{\textasciitilde 10mA}{2331}{1076}\Ty{out}{2005.2}{898}\Ty{ZanZ0}{2005.2}{989}
\Tx{R11}{2041.6}{1083.6}\Tx{220}{2040}{1114.7}\Tx{R9}{2104}{1083.6}\Tx{8k2}{2107}{1114.7}
\Tx{R12}{2041.6}{1232.5}\Tx{8.5}{2037}{1263}\Tx{sum}{2059.4}{1173.6}\Tx{C9}{2127.7}{1158.6}\Tx{470p}{2127}{1210.6}\Tx{C8}{2235.5}{1158.6}\Tx{470p}{2234.8}{1210.6}
\Tx{R46}{2217}{1232.5}\Tx{220}{2215.7}{1262.5}\Tx{R17}{2447}{1245}\Tx{2k}{2439}{1276.5}
\Tx{Q21}{2531.4}{1293}\Tx{BC550C}{2552.4}{1323.6}\Tx{R16}{2447}{1353.4}\Tx{982}{2445.3}{1384.2}\Tx{R18}{2393.6}{1448}\Tx{5000}{2396.8}{1478.4}
\Tx{D3}{2552.4}{1468.4}\Tx{MURS120}{2586.9}{1488.3}\Tx{D4}{2550.5}{1541.7}\Tx{MURS120}{2585.6}{1563.6}
\Tx{C4}{2309.4}{1515.5}\Tx{820p}{2319.6}{1557.3}\Tx{Q10}{2303}{1671.4}\Tx{2SC3503C}{2333.7}{1701}\Tx{In-Out-}{1958.7}{1753.5}
\Tx{R4}{2103.4}{1906.7}\Tx{1k}{2102}{1938.6}\Tx{C6}{2025.6}{1826.7}\Tx{47µ}{2030}{1867.5}
\Tx{C1}{2620}{1286.4}\Tx{2µ2}{2624.4}{1327}\Tx{R20}{2634.7}{1380.6}\Tx{130}{2623.8}{1404}
% output labels
\Tx{R35}{2690.8}{543}\Tx{1k5}{2689}{573.7}\Tx{C10}{2708.7}{605}\Tx{100µ}{2708.7}{656.8}\Tx{out}{2751.4}{632}
\Tx{R37}{2690.8}{705.5}\Tx{47}{2683}{735.5}\Tx{Q17}{2696}{807.8}\Tx{KSC1845\_k}{2731}{830.8}\Tx{R24}{2729}{861}\Tx{10}{2729}{913}\Tx{R21}{2633.4}{989}\Tx{130}{2624}{1012.4}
\Tx{R32}{2807.6}{553.4}\Tx{1}{2820.6}{583.4}\Tx{C24}{2870.5}{605.3}\Tx{1µ}{2870.5}{657.3}\Tx{Vpos1}{3367.5}{563.6}\Tx{25}{3348}{632}
\Tx{Q15}{2871}{847}\Tx{2SC5171\_D}{2905.7}{874.2}\Tx{Q11}{3158.3}{907}\Tx{MJL4281C}{3188}{935.8}
\Tx{R27}{2891}{902.6}\Tx{1}{2891}{953.5}\Tx{R28}{2891}{983.5}\Tx{1}{2891}{1034.4}\Tx{Q13}{3046}{991.5}\Tx{MJL4281C}{3078.6}{1016}\Tx{\textasciitilde 100mA}{3188}{1029.5}
\Tx{D1}{2879}{1063.3}\Tx{MURS120}{2915}{1087}\Tx{R14}{3054.7}{1110.4}\Tx{0.27}{3055.8}{1141.5}\Tx{R2}{3157}{1110.4}\Tx{0.27}{3163.7}{1141.5}
\Tx{R13}{2879.7}{1164}\Tx{1}{2865.6}{1195.6}\Tx{out}{3208}{1173}\Tx{C12}{3247}{1204.7}\Tx{47n}{3245}{1246}
\Tx{R15}{3054.7}{1232.5}\Tx{0.27}{3055.8}{1256.7}\Tx{R1}{3157}{1232.5}\Tx{0.27}{3163.7}{1262.5}\Tx{R59}{3352.3}{1245}\Tx{8}{3338}{1276.5}\Tx{R41}{3257}{1271.6}\Tx{10}{3250.4}{1303}
\Tx{D2}{2880}{1273}\Tx{MURS120}{2915}{1298}\Tx{R29}{2891}{1334}\Tx{1}{2891}{1386.3}\Tx{Q14}{3036.3}{1344}\Tx{MJL4302C}{3070}{1374.8}
\Tx{R34}{2891}{1415.6}\Tx{1}{2891}{1467.4}\Tx{Q12}{3159.3}{1425.5}\Tx{MJL4302C}{3193}{1455.4}
\Tx{Q16}{2878}{1544.8}\Tx{2SA1930\_D}{2915}{1570.4}\Tx{R25}{2742.5}{1537.5}\Tx{10}{2742.5}{1588.7}\Tx{Q20}{2693.8}{1598}\Tx{KSA992}{2716}{1621}
\Tx{R40}{2691}{1728.4}\Tx{47}{2683}{1759}\Tx{C11}{2707.9}{1793.7}\Tx{100µ}{2708.4}{1845.5}\Tx{out}{2751.8}{1820}\Tx{C25}{2870.5}{1793.7}\Tx{1µ}{2870.5}{1845.5}
\Tx{R38}{2691}{1878}\Tx{1k5}{2688}{1907.8}\Tx{R36}{2807.6}{1878}\Tx{1}{2820.6}{1907.8}\Tx{Vneg1}{3367.5}{1833.5}\Tx{25}{3348}{1901.5}
% probe labels
\Tx{Vz0}{702}{1307.7}\Tx{Z0}{749.4}{1334.6}\Tx{Zan}{649}{1347}\Tx{Iz0}{750.6}{1397.8}
\Tx{Vi}{700}{1498}\Tx{X1}{655.6}{1495.5}\Tx{X}{749.4}{1483.6}\Tx{Ii}{736.6}{1541}
\Tx{In+}{71.4}{1685.3}\Tx{Vz3}{121}{1685.3}\Tx{E3}{200.9}{1676.6}\Tx{0.5}{199}{1701.5}\Tx{F3}{266.6}{1673.8}\Tx{0.5}{266}{1701.5}\Ty{Vz3}{290.2}{1705}
\Tx{F1}{570.8}{1673.8}\Tx{0.5}{570.8}{1701.5}\Tx{E1}{635.8}{1676.6}\Tx{0.5}{637.8}{1701.5}\Ty{Vz1}{542}{1706}\Tx{Vz1}{715.6}{1685.3}\Tx{Out+}{773.6}{1685.3}
\Tx{Vz4}{121}{1781.4}\Tx{E4}{200.9}{1771.5}\Tx{0.5}{200.9}{1796.4}\Tx{F4}{266.6}{1771.5}\Tx{0.5}{266}{1796.4}\Ty{Vz4}{290.2}{1800}
\Tx{F2}{570.8}{1771.5}\Tx{0.5}{570.8}{1796.4}\Tx{E2}{637}{1771.5}\Tx{0.5}{637}{1796.4}\Ty{Vz2}{542}{1800}\Tx{Vz2}{715.6}{1781.4}
\Tx{X1}{396.7}{1738.7}\Tx{X}{431.8}{1738.7}\Tx{In-}{115}{1819.7}\Tx{Out-}{770.4}{1819.7}
\end{tikzpicture}
\end{document}
